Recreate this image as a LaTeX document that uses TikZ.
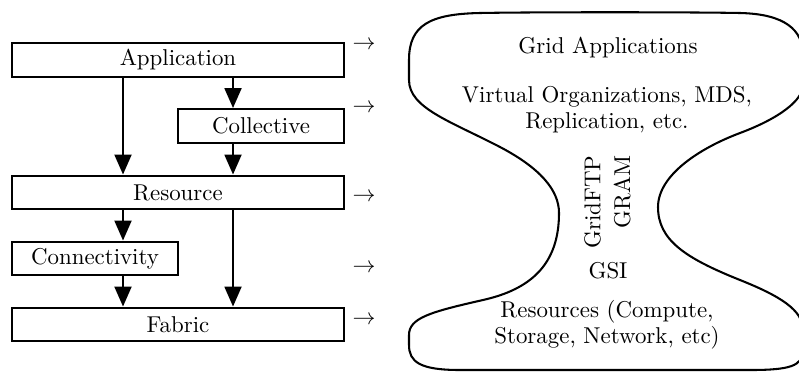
\documentclass[tikz,border=0pt]{standalone}
\usetikzlibrary{arrows.meta}
\begin{document}
\begin{tikzpicture}[x=0.4367pt,y=-0.4367pt,
  layerbox/.style={draw,line width=0.9pt,minimum height=14.8pt,inner sep=0pt,anchor=center},
  arr/.style={line width=0.9pt,-{Triangle[length=8.7pt,width=7.4pt]}},
  lbl/.style={inner sep=0pt},
  blob/.style={line width=0.9pt}]
\useasboundingbox (0,0) rectangle (799,372);
% layer boxes
\node[layerbox,minimum width=145pt] (app) at (178,60) {Application};
\node[layerbox,minimum width=72.5pt] (col) at (261,126) {Collective};
\node[layerbox,minimum width=145pt] (res) at (178,192.5) {Resource};
\node[layerbox,minimum width=72.5pt] (con) at (95,258.5) {Connectivity};
\node[layerbox,minimum width=145pt] (fab) at (178,324.5) {Fabric};
\coordinate (cL) at (123,0);
\coordinate (cR) at (233,0);
\draw[arr] (app.south -| cL) -- (res.north -| cL);
\draw[arr] (app.south -| cR) -- (col.north -| cR);
\draw[arr] (col.south -| cR) -- (res.north -| cR);
\draw[arr] (res.south -| cL) -- (con.north -| cL);
\draw[arr] (con.south -| cL) -- (fab.north -| cL);
\draw[arr] (res.south -| cR) -- (fab.north -| cR);
% right arrows
\node[lbl] (r1) at (364,45) {$\rightarrow$};
\node[lbl] (r2) at (364,108) {$\rightarrow$};
\node[lbl] (r3) at (364,197) {$\rightarrow$};
\node[lbl] (r4) at (364,268) {$\rightarrow$};
\node[lbl] (r5) at (364,320) {$\rightarrow$};
% hourglass outline
\draw[blob] (409,60) .. controls (409,25) and (430,14) .. (480,13)
  .. controls (530,12) and (690,12) .. (740,13)
  .. controls (785,14) and (803,30) .. (803,55)
  -- (803,85)
  .. controls (803,100) and (780,118) .. (740,133)
  .. controls (700,148) and (658,175) .. (658,207)
  .. controls (658,240) and (685,258) .. (740,280)
  .. controls (780,296) and (803,310) .. (803,330)
  -- (803,350)
  .. controls (803,366) and (790,370) .. (750,370)
  -- (460,370)
  .. controls (420,370) and (409,362) .. (409,345)
  -- (409,335)
  .. controls (409,318) and (430,312) .. (483,300)
  .. controls (530,289.4) and (559,265) .. (559,213)
  .. controls (559,190) and (540,168) .. (500,147)
  .. controls (450,121) and (409,108) .. (409,80)
  -- cycle;
% texts
\node[lbl,anchor=base] (ga) at (608,53) {Grid Applications};
\node[lbl,anchor=north,align=center,font=\fontsize{10}{11.4}\selectfont] (vo) at (607,86) {Virtual Organizations, MDS,\\Replication, etc.};
\node[lbl,rotate=90,align=right,font=\fontsize{10}{13}\selectfont] (gg) at (607.5,202) {GridFTP\\GRAM};
\node[lbl,anchor=base] (gsi) at (608,278) {GSI};
\node[lbl,anchor=north,align=center,font=\fontsize{10}{11.4}\selectfont] (rs) at (607,299.5) {Resources (Compute,\\Storage, Network, etc)};
\end{tikzpicture}
\end{document}
